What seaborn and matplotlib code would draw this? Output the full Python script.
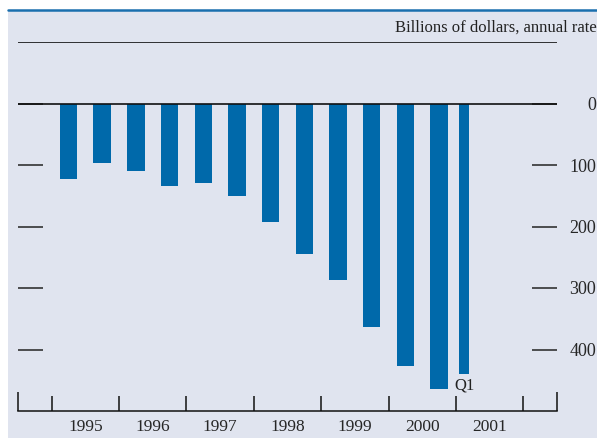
import numpy as np
import pandas as pd
import seaborn as sns
import matplotlib.pyplot as plt
from matplotlib.patches import Rectangle
from matplotlib.lines import Line2D

# semiannual balances, billions of dollars (annual rate)
half_years = [1995.25, 1995.75, 1996.25, 1996.75, 1997.25, 1997.75, 1998.25,
              1998.75, 1999.25, 1999.75, 2000.25, 2000.75]
balance = [-122, -96, -109, -134, -129, -150, -192, -245, -287, -364, -427, -465]
q1_pos = [2001.125]
q1_balance = [-440]

year_labels = ['1995', '1996', '1997', '1998', '1999', '2000', '2001']
y_ticks = [0, -100, -200, -300, -400]
y_labels = ['0', '100', '200', '300', '400']

bar_color = '#0069aa'
panel_color = '#e0e4ef'

sns.set_style('white')
plt.rcParams['font.family'] = ['Liberation Serif', 'DejaVu Serif']

fig = plt.figure(figsize=(5.97, 4.38), dpi=100)
fig.patch.set_facecolor('white')
fig.patches.append(Rectangle((8 / 597, 0), 1, 1 - 10 / 438, transform=fig.transFigure,
                             facecolor=panel_color, edgecolor='none', zorder=-1))
fig.lines.append(Line2D([8 / 597, 1], [1 - 9.5 / 438, 1 - 9.5 / 438], transform=fig.transFigure,
                        color='#1a6fae', lw=1.8))

ax = fig.add_axes([18 / 597, 1 - 411 / 438, 539 / 597, 369 / 438])
ax.set_facecolor('none')

semi = pd.DataFrame({'x': half_years, 'y': balance})
q1 = pd.DataFrame({'x': q1_pos, 'y': q1_balance})
sns.barplot(data=semi, x='x', y='y', native_scale=True, width=0.52, color=bar_color,
            saturation=1, linewidth=0, errorbar=None, ax=ax)
sns.barplot(data=q1, x='x', y='y', native_scale=True, width=0.15, color=bar_color,
            saturation=1, linewidth=0, errorbar=None, ax=ax)

ax.text(q1_pos[0], q1_balance[0] - 18, 'Q1', ha='center', va='center', fontsize=12, color='#222')

ax.set_xlim(1994.5, 2002.5)
ax.set_ylim(-500, 100)
ax.axhline(100, color='#111', lw=1.2, zorder=3)
ax.axhline(0, color='#111', lw=1.2, zorder=3)

for s in ['top', 'left', 'right']:
    ax.spines[s].set_visible(False)
ax.spines['bottom'].set_color('#111')
ax.spines['bottom'].set_linewidth(1.1)

# y ticks: short dashes on both sides, labels on the right
ax.set_yticks(y_ticks)
ax.set_yticklabels(y_labels)
ax.tick_params(axis='y', which='major', direction='in', length=18, width=1.2, color='#333',
               left=True, right=True, labelleft=False, labelright=True, pad=28, labelsize=13)
for lab in ax.get_yticklabels():
    lab.set_horizontalalignment('right')

# x ticks: year boundaries, labels centered in each year
ax.set_xticks([1994.5, 1995, 1996, 1997, 1998, 1999, 2000, 2001, 2002, 2002.5])
ax.set_xticklabels([])
ax.set_xticks([1995.5, 1996.5, 1997.5, 1998.5, 1999.5, 2000.5, 2001.5], minor=True)
ax.set_xticklabels(year_labels, minor=True)
ax.tick_params(axis='x', which='major', direction='in', length=11, width=1.1, color='#111',
               bottom=True)
ax.tick_params(axis='x', which='minor', length=0, pad=6, labelsize=12.5)
ticks = ax.xaxis.get_major_ticks()
for t in (ticks[0], ticks[-1]):
    t.tick1line.set_markersize(14)

ax.set_xlabel('')
ax.set_ylabel('')

fig.text(1.0, 1 - 28 / 438, 'Billions of dollars, annual rate', ha='right', va='center',
         fontsize=12, color='#222')

plt.savefig('out.png', dpi=100)
